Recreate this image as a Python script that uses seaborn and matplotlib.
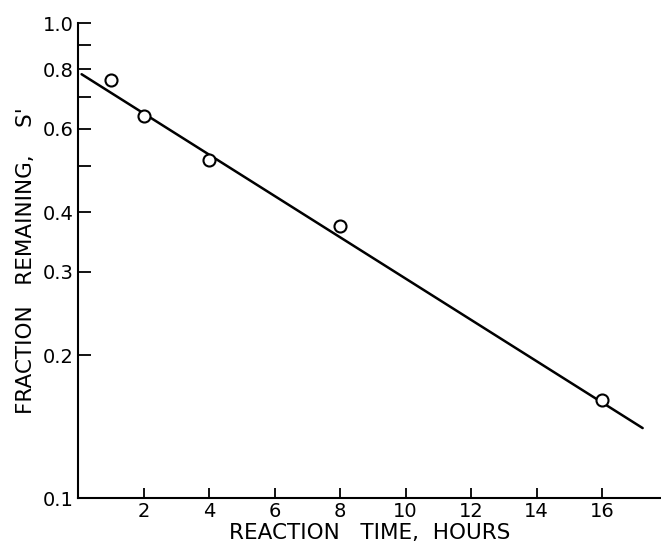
import numpy as np
import pandas as pd
import matplotlib
matplotlib.use("Agg")
import matplotlib.pyplot as plt
import seaborn as sns

# data
time_hours = [1, 2, 4, 8, 16]
fraction_remaining = [0.759, 0.637, 0.515, 0.374, 0.161]
# fitted line, endpoints as drawn
fit_time = [0.11, 17.24]
fit_fraction = [0.781, 0.1404]

x_ticks = [2, 4, 6, 8, 10, 12, 14, 16]
y_major = [0.1, 0.2, 0.3, 0.4, 0.6, 0.8, 1.0]
y_major_labels = ["0.1", "0.2", "0.3", "0.4", "0.6", "0.8", "1.0"]
y_minor = [0.5, 0.7, 0.9]

points = pd.DataFrame({"time": time_hours, "fraction": fraction_remaining})
fit = pd.DataFrame({"time": fit_time, "fraction": fit_fraction})

sns.set_style("ticks")
plt.rcParams['font.family'] = ['DejaVu Sans']
plt.rcParams['text.color'] = 'black'
plt.rcParams['axes.labelcolor'] = 'black'
plt.rcParams['xtick.color'] = 'black'
plt.rcParams['ytick.color'] = 'black'

fig = plt.figure(figsize=(6.61, 5.54), dpi=100)
ax = fig.add_axes([0.118, 0.101, 0.882, 0.857])

sns.lineplot(data=fit, x="time", y="fraction", color="black", linewidth=1.8, ax=ax)
sns.scatterplot(data=points, x="time", y="fraction", marker="o", s=75,
                facecolor="white", edgecolor="black", linewidth=1.5, zorder=3, ax=ax)

ax.set_yscale("log")
ax.set_xlim(0, 17.8)
ax.set_ylim(0.1, 1.0)

ax.set_xticks(x_ticks)
ax.set_xticklabels([str(t) for t in x_ticks])
ax.set_yticks(y_major)
ax.set_yticklabels(y_major_labels)
ax.set_yticks(y_minor, minor=True)
ax.yaxis.set_minor_formatter(matplotlib.ticker.NullFormatter())

ax.tick_params(axis="both", which="both", direction="in", labelsize=14, width=1.3)
ax.tick_params(axis="y", which="both", length=9, pad=3)
ax.tick_params(axis="x", which="major", length=7, pad=3)

for side in ["top", "right"]:
    ax.spines[side].set_visible(False)
for side in ["left", "bottom"]:
    ax.spines[side].set_linewidth(1.5)
    ax.spines[side].set_color("black")

ax.set_xlabel("REACTION   TIME,  HOURS", fontsize=15.5, labelpad=1)
ax.set_ylabel("FRACTION   REMAINING,    S'", fontsize=15.5, labelpad=5)

fig.savefig("out.png", dpi=100)
